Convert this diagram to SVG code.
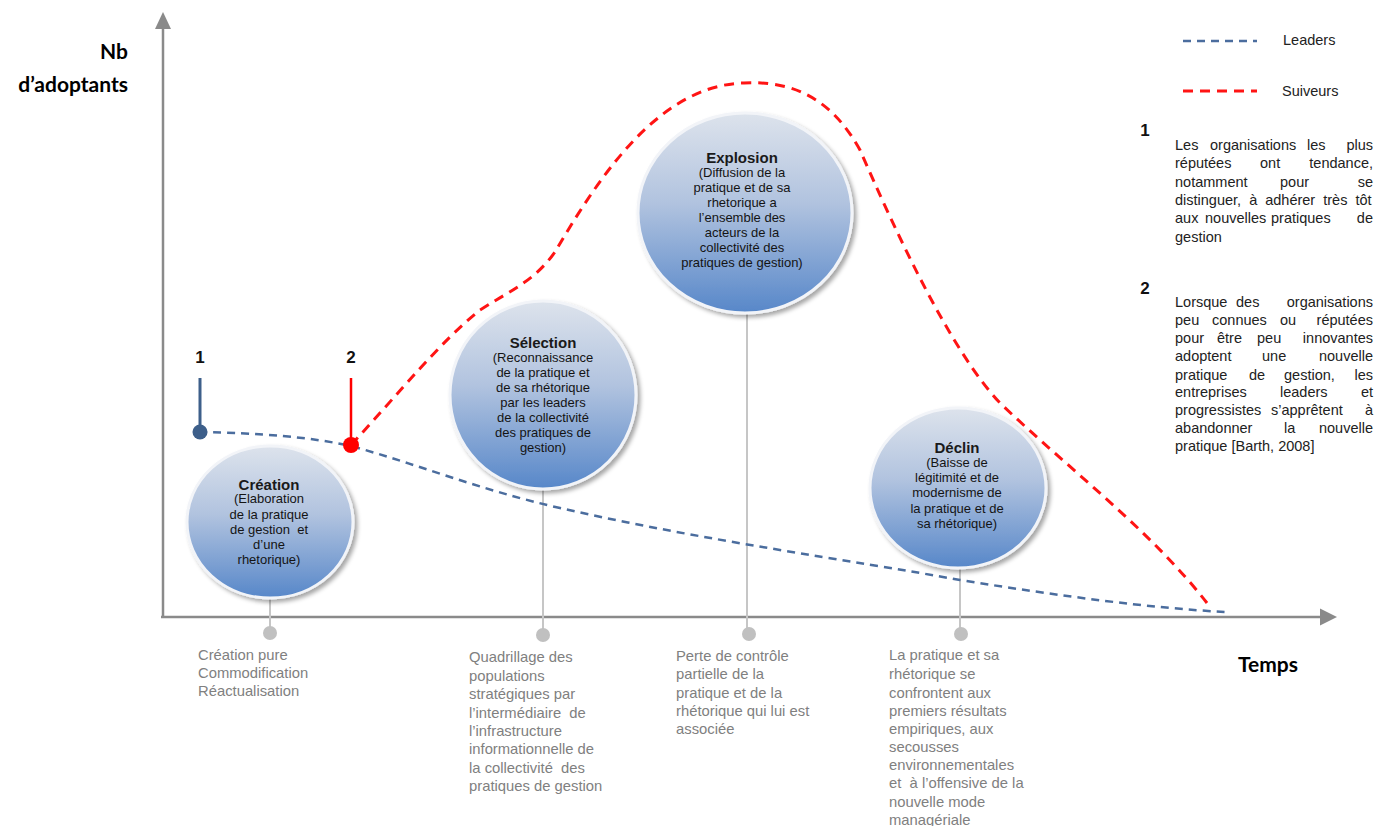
<svg xmlns="http://www.w3.org/2000/svg" width="1390" height="826" viewBox="0 0 1390 826">
<defs>
  <linearGradient id="bubble" x1="0" y1="0" x2="0" y2="1">
    <stop offset="0" stop-color="#dde3ec"/>
    <stop offset="0.45" stop-color="#b1c3df"/>
    <stop offset="1" stop-color="#5787c9"/>
  </linearGradient>
  <filter id="shadow" x="-20%" y="-20%" width="140%" height="140%">
    <feDropShadow dx="3" dy="3" stdDeviation="2" flood-color="#000" flood-opacity="0.35"/>
  </filter>
  <style>
    .axis{stroke:#8a8a8a;stroke-width:2.5;fill:none}
    .arrow{fill:#8a8a8a}
    .bub{fill:url(#bubble);stroke:#f2f4f8;stroke-width:3;filter:url(#shadow)}
    .conn{stroke:#c6c6c6;stroke-width:2;fill:none}
    .dot{fill:#c0c0c0}
    .ttl{font-family:"Liberation Sans",Arial,sans-serif;font-weight:bold;font-size:15px;fill:#1a1a1a;text-anchor:middle}
    .bt{font-family:"Liberation Sans",Arial,sans-serif;font-size:13px;fill:#141414;text-anchor:middle}
    .desc{font-family:"Liberation Sans",Arial,sans-serif;font-size:14.8px;fill:#808080}
    .leg{font-family:"Liberation Sans",Arial,sans-serif;font-size:14.5px;fill:#222}
    .num{font-family:"Liberation Sans",Arial,sans-serif;font-weight:bold;font-size:17px;fill:#111}
    .big{font-family:Lato,"Open Sans",sans-serif;font-weight:bold;font-size:21px;fill:#000}
    .lead{stroke:#4b6d9e;stroke-width:2.5;fill:none;stroke-dasharray:8 6}
    .foll{stroke:#ff1414;stroke-width:3;fill:none;stroke-dasharray:10 7}
    .e{text-anchor:end}
  </style>
</defs>
<rect width="1390" height="826" fill="#fff"/>

<g id="axes">
  <line class="axis" x1="163" y1="617" x2="163" y2="26"/>
  <polygon class="arrow" points="163,12 155,29 171,29"/>
  <line class="axis" x1="161" y1="617" x2="1322" y2="617"/>
  <polygon class="arrow" points="1337,617 1320,608.5 1320,625.5"/>
  <text class="big e" x="128" y="59">Nb</text>
  <text class="big e" x="128" y="92">d’adoptants</text>
  <text class="big" x="1238" y="672">Temps</text>
</g>

<g id="connectors">
  <line class="conn" x1="270" y1="560" x2="270" y2="633"/>
  <line class="conn" x1="543" y1="440" x2="543" y2="635"/>
  <line class="conn" x1="747" y1="260" x2="747" y2="634"/>
  <line class="conn" x1="960" y1="520" x2="960" y2="634"/>
  <circle class="dot" cx="270" cy="633" r="7"/>
  <circle class="dot" cx="543" cy="635" r="7"/>
  <circle class="dot" cx="749" cy="634" r="7"/>
  <circle class="dot" cx="961" cy="634" r="7"/>
</g>

<g id="curves">
  <path class="lead" d="M199,432 C260,433 310,437 351,446 C420,465 480,490 560,508 C700,540 850,560 960,580 C1060,596 1150,608 1225,612"/>
  <path class="foll" d="M351,445 C400,392 440,342 480,310 C515,288 535,280 555,252 C600,175 660,85 744,83 C800,80 835,105 860,150 C895,230 950,350 1000,403 C1070,470 1150,530 1207,603"/>
</g>

<g id="creation">
  <ellipse class="bub" cx="270" cy="522" rx="83" ry="76"/>
  <text class="ttl" x="269" y="490">Création</text>
  <text class="bt" x="269" y="503">(Elaboration</text>
  <text class="bt" x="269" y="518.5">de la pratique</text>
  <text class="bt" x="269" y="534">de gestion&#160; et</text>
  <text class="bt" x="269" y="549">d’une</text>
  <text class="bt" x="269" y="564">rhetorique)</text>
  <text class="desc" x="198" y="660">Création pure</text>
  <text class="desc" x="198" y="678">Commodification</text>
  <text class="desc" x="198" y="696">Réactualisation</text>
</g>

<g id="selection">
  <ellipse class="bub" cx="543" cy="395" rx="93" ry="94"/>
  <text class="ttl" x="543" y="348">Sélection</text>
  <text class="bt" x="543" y="362">(Reconnaissance</text>
  <text class="bt" x="543" y="377">de la pratique et</text>
  <text class="bt" x="543" y="392">de sa rhétorique</text>
  <text class="bt" x="543" y="407">par les leaders</text>
  <text class="bt" x="543" y="422">de la collectivité</text>
  <text class="bt" x="543" y="437">des pratiques de</text>
  <text class="bt" x="543" y="452">gestion)</text>
  <text class="desc" x="469" y="662">Quadrillage des</text>
  <text class="desc" x="469" y="681">populations</text>
  <text class="desc" x="469" y="699">stratégiques par</text>
  <text class="desc" x="469" y="718">l’intermédiaire&#160; de</text>
  <text class="desc" x="469" y="736">l’infrastructure</text>
  <text class="desc" x="469" y="754">informationnelle de</text>
  <text class="desc" x="469" y="773">la collectivité&#160; des</text>
  <text class="desc" x="469" y="791">pratiques de gestion</text>
</g>

<g id="explosion">
  <ellipse class="bub" cx="745" cy="213" rx="107" ry="100"/>
  <text class="ttl" x="742" y="163">Explosion</text>
  <text class="bt" x="742" y="176.5">(Diffusion de la</text>
  <text class="bt" x="742" y="191.5">pratique et de sa</text>
  <text class="bt" x="742" y="206.5">rhetorique a</text>
  <text class="bt" x="742" y="221.5">l’ensemble des</text>
  <text class="bt" x="742" y="236.5">acteurs de la</text>
  <text class="bt" x="742" y="251.5">collectivité des</text>
  <text class="bt" x="742" y="267">pratiques de gestion)</text>
  <text class="desc" x="676" y="661">Perte de contrôle</text>
  <text class="desc" x="676" y="679">partielle de la</text>
  <text class="desc" x="676" y="698">pratique et de la</text>
  <text class="desc" x="676" y="716">rhétorique qui lui est</text>
  <text class="desc" x="676" y="734">associée</text>
</g>

<g id="declin">
  <ellipse class="bub" cx="958" cy="488" rx="88" ry="80"/>
  <text class="ttl" x="957" y="453">Déclin</text>
  <text class="bt" x="957" y="466.5">(Baisse de</text>
  <text class="bt" x="957" y="481.5">légitimité et de</text>
  <text class="bt" x="957" y="496.5">modernisme de</text>
  <text class="bt" x="957" y="512.5">la pratique et de</text>
  <text class="bt" x="957" y="527.5">sa rhétorique)</text>
  <text class="desc" x="889" y="660">La pratique et sa</text>
  <text class="desc" x="889" y="679">rhétorique se</text>
  <text class="desc" x="889" y="698">confrontent aux</text>
  <text class="desc" x="889" y="716">premiers résultats</text>
  <text class="desc" x="889" y="734">empiriques, aux</text>
  <text class="desc" x="889" y="752">secousses</text>
  <text class="desc" x="889" y="770">environnementales</text>
  <text class="desc" x="889" y="788">et&#160; à l’offensive de la</text>
  <text class="desc" x="889" y="807">nouvelle mode</text>
  <text class="desc" x="889" y="825">managériale</text>
</g>

<g id="marker1">
  <line x1="200" y1="378" x2="200" y2="432" stroke="#3d5f8a" stroke-width="3"/>
  <circle cx="200" cy="432" r="7.5" fill="#3d5f8a"/>
  <text class="num" x="200" y="363" text-anchor="middle">1</text>
</g>

<g id="marker2">
  <line x1="351" y1="378" x2="351" y2="445" stroke="#ff0000" stroke-width="2.5"/>
  <circle cx="351" cy="445" r="8" fill="#ff0000"/>
  <text class="num" x="351" y="363" text-anchor="middle">2</text>
</g>

<g id="legend">
  <line class="lead" x1="1183" y1="41" x2="1257" y2="41" stroke-dasharray="7 5" stroke-width="2"/>
  <text class="leg" x="1283" y="45">Leaders</text>
  <line class="foll" x1="1183" y1="91" x2="1257" y2="91" stroke-dasharray="7 5" stroke-width="2"/>
  <text class="leg" x="1282" y="96">Suiveurs</text>

  <text class="num" x="1145" y="136" text-anchor="middle">1</text>
  <text class="leg" y="150"><tspan x="1175">Les</tspan><tspan x="1210">organisations</tspan><tspan x="1307">les</tspan><tspan x="1373" text-anchor="end">plus</tspan></text>
  <text class="leg" y="168"><tspan x="1175">réputées</tspan><tspan x="1260">ont</tspan><tspan x="1373" text-anchor="end">tendance,</tspan></text>
  <text class="leg" y="186.5"><tspan x="1175">notamment</tspan><tspan x="1280">pour</tspan><tspan x="1373" text-anchor="end">se</tspan></text>
  <text class="leg" x="1175" y="205" word-spacing="4">distinguer, à adhérer très tôt</text>
  <text class="leg" y="223"><tspan x="1175">aux</tspan><tspan x="1205">nouvelles</tspan><tspan x="1271">pratiques</tspan><tspan x="1373" text-anchor="end">de</tspan></text>
  <text class="leg" x="1175" y="242">gestion</text>

  <text class="num" x="1145" y="294" text-anchor="middle">2</text>
  <text class="leg" y="306.5"><tspan x="1175">Lorsque</tspan><tspan x="1236">des</tspan><tspan x="1373" text-anchor="end">organisations</tspan></text>
  <text class="leg" y="324.5"><tspan x="1175">peu</tspan><tspan x="1212">connues</tspan><tspan x="1280">ou</tspan><tspan x="1373" text-anchor="end">réputées</tspan></text>
  <text class="leg" y="343"><tspan x="1175">pour</tspan><tspan x="1217">être</tspan><tspan x="1257">peu</tspan><tspan x="1373" text-anchor="end">innovantes</tspan></text>
  <text class="leg" y="361"><tspan x="1175">adoptent</tspan><tspan x="1262">une</tspan><tspan x="1373" text-anchor="end">nouvelle</tspan></text>
  <text class="leg" y="379.5"><tspan x="1175">pratique</tspan><tspan x="1249">de</tspan><tspan x="1284">gestion,</tspan><tspan x="1373" text-anchor="end">les</tspan></text>
  <text class="leg" y="397"><tspan x="1175">entreprises</tspan><tspan x="1280">leaders</tspan><tspan x="1373" text-anchor="end">et</tspan></text>
  <text class="leg" y="414.5"><tspan x="1175">progressistes</tspan><tspan x="1271">s’apprêtent</tspan><tspan x="1373" text-anchor="end">à</tspan></text>
  <text class="leg" y="433"><tspan x="1175">abandonner</tspan><tspan x="1284">la</tspan><tspan x="1373" text-anchor="end">nouvelle</tspan></text>
  <text class="leg" x="1175" y="451">pratique [Barth, 2008]</text>
</g>
</svg>
